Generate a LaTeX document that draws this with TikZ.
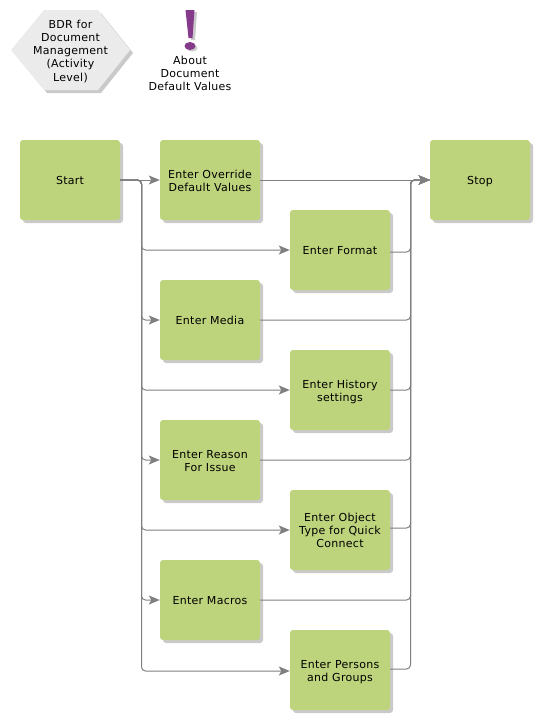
\documentclass[tikz,border=0pt]{standalone}
\usepackage{fontspec}
\setmainfont{DejaVu Sans}[LetterSpace=2.5]
\usetikzlibrary{arrows.meta,shadows}
\definecolor{boxgreen}{HTML}{BDD37C}
\definecolor{flowgray}{HTML}{808080}
\definecolor{shadowgray}{HTML}{CACACA}
\definecolor{hexgray}{HTML}{EBEBEB}
\definecolor{markpurple}{HTML}{853A8B}
\newcommand{\mlines}[1]{\vbox{\vskip4pt\hbox{\begin{tabular}{@{}c@{}}#1\end{tabular}}}}
\tikzset{
  softshadow/.style={drop shadow={shadow xshift=3pt,shadow yshift=-3pt,fill=shadowgray,opacity=1}},
  textstyle/.style={align=center,inner sep=0pt,font=\fontsize{11}{13.2}\selectfont,
    execute at begin node={\rule{0pt}{11pt}},execute at end node={\rule[-2.5pt]{0pt}{0pt}}},
  task/.style={textstyle,fill=boxgreen,rounded corners=3pt,minimum width=100pt,minimum height=80pt,softshadow},
  label/.style={textstyle},
  flow/.style={draw=flowgray,line width=1pt,rounded corners=4pt},
  arrowed/.style={flow,-{Stealth[length=11pt,width=9pt,inset=2.5pt]}}
}
\begin{document}
\begin{tikzpicture}[x=1pt,y=-1pt]
\useasboundingbox (0,0) rectangle (540,720);
% hexagon
\fill[shadowgray] (14,53) -- (47,13) -- (101,13) -- (133,53) -- (101,93) -- (47,93) -- cycle;
\fill[hexgray] (11,50) -- (44,10) -- (98,10) -- (130,50) -- (98,90) -- (44,90) -- cycle;
\node[label] (bdr) at (70.5,50) {\mlines{BDR for\\Document\\Management\\(Activity\\Level)}};
% exclamation mark
\fill[shadowgray] (188,12) -- (197,12) -- (195,40) -- (191,40) -- cycle;
\fill[shadowgray] (192,48) ellipse (5.5 and 3.5);
\fill[markpurple] (185.5,10) -- (194.5,10) -- (192.5,38) -- (188.5,38) -- cycle;
\fill[markpurple] (190,46) ellipse (5.5 and 4);
\node[label] (about) at (190,73) {\mlines{About\\Document\\Default Values}};
% tasks
\node[task] (start) at (70,180) {Start};
\node[task] (override) at (210,180) {\mlines{Enter Override\\Default Values}};
\node[task] (stop) at (480,180) {Stop};
\node[task] (format) at (340,250) {Enter Format};
\node[task] (media) at (210,320) {Enter Media};
\node[task] (history) at (340,390) {\mlines{Enter History\\settings}};
\node[task] (reason) at (210,460) {\mlines{Enter Reason\\For Issue}};
\node[task] (object) at (340,530) {\mlines{Enter Object\\Type for Quick\\Connect}};
\node[task] (macros) at (210,600) {Enter Macros};
\node[task] (persons) at (340,670) {\mlines{Enter Persons\\and Groups}};
\coordinate (busL) at (141.5,400);
\coordinate (busR) at (410.5,400);
% outgoing from Start
\draw[arrowed] (start.east) -- (override.west);
\foreach \n/\dy in {format/0,media/0,history/0,reason/0,object/0,macros/0,persons/1}{
  \draw[arrowed] (start.east) -- (busL |- start.east) -- ([yshift=-\dy pt]busL |- \n.west) -- ([yshift=-\dy pt]\n.west);
}
% incoming to Stop
\draw[arrowed] (override.east) -- (stop.west);
\foreach \n/\dy in {format/2,media/0,history/0,reason/0,object/-2,macros/0,persons/-1}{
  \draw[arrowed] ([yshift=-\dy pt]\n.east) -- ([yshift=-\dy pt]busR |- \n.east) -- (busR |- stop.west) -- (stop.west);
}
\end{tikzpicture}
\end{document}
